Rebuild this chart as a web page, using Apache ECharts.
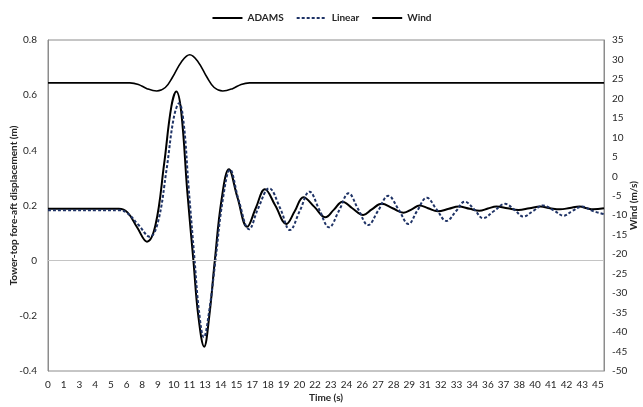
<!DOCTYPE html>
<html>
<head>
<meta charset="utf-8">
<script src="https://cdn.jsdelivr.net/npm/echarts@6/dist/echarts.min.js"></script>
<style>
  html, body { margin: 0; padding: 0; background: #fff; }
  #chart { width: 643px; height: 407px; }
</style>
</head>
<body>
<div id="chart"></div>
<script>
// tick labels as printed under the time axis
var tickLabels = [0, 1, 3, 4, 5, 6, 8, 9, 10, 11, 13, 14, 15, 17, 18, 19, 20, 22, 23, 24,
    26, 27, 28, 29, 31, 32, 33, 34, 36, 37, 38, 40, 41, 42, 43, 45];

var adamsTime = [0, 2, 4, 5.8, 6.5, 7.3, 8.1, 8.8, 9.5, 10.1, 10.5, 10.9, 11.4, 11.9, 12.3, 12.78,
    13.2, 13.65, 14.2, 14.8, 15.5, 16.3, 17.0, 17.75, 18.6, 19.5, 20.2, 20.9, 21.8, 22.7,
    23.4, 24.1, 24.9, 25.8, 26.5, 27.3, 28.2, 29.1, 29.8, 30.4, 31.1, 31.9, 32.8, 33.6,
    34.5, 35.3, 36.0, 36.7, 37.6, 38.5, 39.4, 40.3, 41.1, 41.9, 42.7, 43.5, 44.1, 44.6, 45.5];
var adamsDisp = [0.188, 0.188, 0.188, 0.188, 0.175, 0.12, 0.069, 0.13, 0.35, 0.56, 0.613, 0.54, 0.25, 0.0, -0.2, -0.312,
    -0.2, 0.0, 0.22, 0.331, 0.23, 0.123, 0.19, 0.259, 0.2, 0.133, 0.18, 0.23, 0.195, 0.157,
    0.185, 0.214, 0.19, 0.166, 0.186, 0.206, 0.19, 0.174, 0.187, 0.2, 0.19, 0.179, 0.188, 0.196,
    0.188, 0.181, 0.189, 0.196, 0.19, 0.184, 0.19, 0.196, 0.19, 0.186, 0.191, 0.196, 0.19, 0.186, 0.19];

var linearTime = [0, 2, 4, 5.8, 6.5, 7.4, 8.33, 9.0, 9.7, 10.3, 10.73, 11.1, 11.5, 12.0, 12.35, 12.75,
    13.2, 13.7, 14.3, 14.9, 15.6, 16.46, 17.2, 18.1, 19.0, 19.8, 20.6, 21.4, 22.2, 23.0,
    23.8, 24.6, 25.4, 26.2, 27.0, 27.85, 28.7, 29.5, 30.2, 31.0, 31.8, 32.6, 33.4, 34.1,
    34.9, 35.6, 36.5, 37.4, 38.2, 38.9, 39.7, 40.5, 41.4, 42.2, 42.9, 43.7, 44.6, 45.5];
var linearDisp = [0.183, 0.183, 0.183, 0.183, 0.172, 0.13, 0.087, 0.14, 0.33, 0.52, 0.571, 0.5, 0.27, 0.0, -0.18, -0.278,
    -0.18, 0.0, 0.22, 0.33, 0.22, 0.114, 0.19, 0.262, 0.19, 0.111, 0.18, 0.25, 0.185, 0.121,
    0.18, 0.244, 0.185, 0.129, 0.18, 0.235, 0.185, 0.133, 0.18, 0.228, 0.186, 0.144, 0.18, 0.214,
    0.185, 0.154, 0.18, 0.206, 0.183, 0.16, 0.18, 0.2, 0.182, 0.163, 0.18, 0.196, 0.18, 0.169];

var windTime = [0, 3, 6.7, 7.4, 8.1, 8.9, 9.6, 10.2, 10.9, 11.6, 12.3, 13.0, 13.6, 14.3, 15.1, 15.8, 16.5, 20, 30, 45.5];
var windSpeed = [24, 24, 24, 23.6, 22.5, 21.9, 22.8, 25.5, 29.3, 31.2, 29.3, 25.5, 22.8, 21.9, 22.5, 23.6, 24, 24, 24, 24];

function pairs(xs, ys) {
    return xs.map(function (x, i) { return [x, ys[i]]; });
}

var chart = echarts.init(document.getElementById('chart'));
var step = 45 / 35;
var font = 'Lato, "Open Sans", sans-serif';

var option = {
    animation: false,
    textStyle: { fontFamily: font },
    legend: {
        top: 8,
        left: 'center',
        itemWidth: 30,
        itemHeight: 10,
        itemGap: 12,
        itemStyle: { opacity: 0 },
        textStyle: { fontSize: 10, color: '#262626', fontWeight: 'bold', fontFamily: font },
        data: ['ADAMS', 'Linear', 'Wind']
    },
    grid: {
        left: 48,
        right: 39,
        top: 40,
        bottom: 36,
        containLabel: false,
        outerBoundsMode: 'none',
        show: true,
        borderColor: '#8c8c8c',
        borderWidth: 1
    },
    xAxis: {
        type: 'value',
        min: 0,
        max: 45.5,
        interval: step,
        name: 'Time (s)',
        nameLocation: 'middle',
        nameGap: 22,
        nameMoveOverlap: false,
        nameTextStyle: { fontSize: 10, color: '#262626', fontWeight: 'bold', fontFamily: font },
        axisLine: { show: false },
        axisTick: { show: false },
        splitLine: { show: false },
        axisLabel: {
            fontSize: 10,
            color: '#262626',
            margin: 9,
            showMaxLabel: false,
            formatter: function (v) {
                var i = Math.round(v / step);
                return tickLabels[i] !== undefined ? String(tickLabels[i]) : '';
            }
        }
    },
    yAxis: [
        {
            type: 'value',
            min: -0.4,
            max: 0.8,
            interval: 0.2,
            name: 'Tower-top fore-aft displacement (m)',
            nameLocation: 'middle',
            nameGap: 29,
            nameMoveOverlap: false,
            nameTextStyle: { fontSize: 10, color: '#262626', fontWeight: 'bold', fontFamily: font },
            axisLine: { show: true, lineStyle: { color: '#8c8c8c' } },
            axisTick: { show: false },
            splitLine: { show: false },
            axisLabel: {
                fontSize: 10,
                color: '#262626',
                margin: 11,
                formatter: function (v) { return String(Math.round(v * 10) / 10); }
            }
        },
        {
            type: 'value',
            min: -50,
            max: 35,
            interval: 5,
            position: 'right',
            name: 'Wind (m/s)',
            nameLocation: 'middle',
            nameGap: 25,
            nameMoveOverlap: false,
            nameTextStyle: { fontSize: 10, color: '#262626', fontWeight: 'bold', fontFamily: font },
            axisLine: { show: true, lineStyle: { color: '#8c8c8c' } },
            axisTick: { show: false },
            splitLine: { show: false },
            axisLabel: { fontSize: 10, color: '#262626', margin: 8 }
        }
    ],
    series: [
        {
            name: 'Wind',
            type: 'line',
            yAxisIndex: 1,
            symbol: 'none',
            smooth: 0.4,
            lineStyle: { color: '#000', width: 1.6 },
            itemStyle: { color: '#000' },
            data: pairs(windTime, windSpeed)
        },
        {
            name: 'ADAMS',
            type: 'line',
            symbol: 'none',
            smooth: 0.4,
            z: 3,
            lineStyle: { color: '#000', width: 2 },
            itemStyle: { color: '#000' },
            data: pairs(adamsTime, adamsDisp),
            markLine: {
                silent: true,
                symbol: 'none',
                label: { show: false },
                lineStyle: { color: '#c4c4c4', width: 1, type: 'solid' },
                data: [{ yAxis: 0 }]
            }
        },
        {
            name: 'Linear',
            type: 'line',
            symbol: 'none',
            smooth: 0.4,
            z: 4,
            lineStyle: { color: '#1f3366', width: 2, type: [3, 2] },
            itemStyle: { color: '#1f3366' },
            data: pairs(linearTime, linearDisp)
        }
    ]
};
chart.setOption(option);

window.onresize = chart.resize;
</script>
</body>
</html>
